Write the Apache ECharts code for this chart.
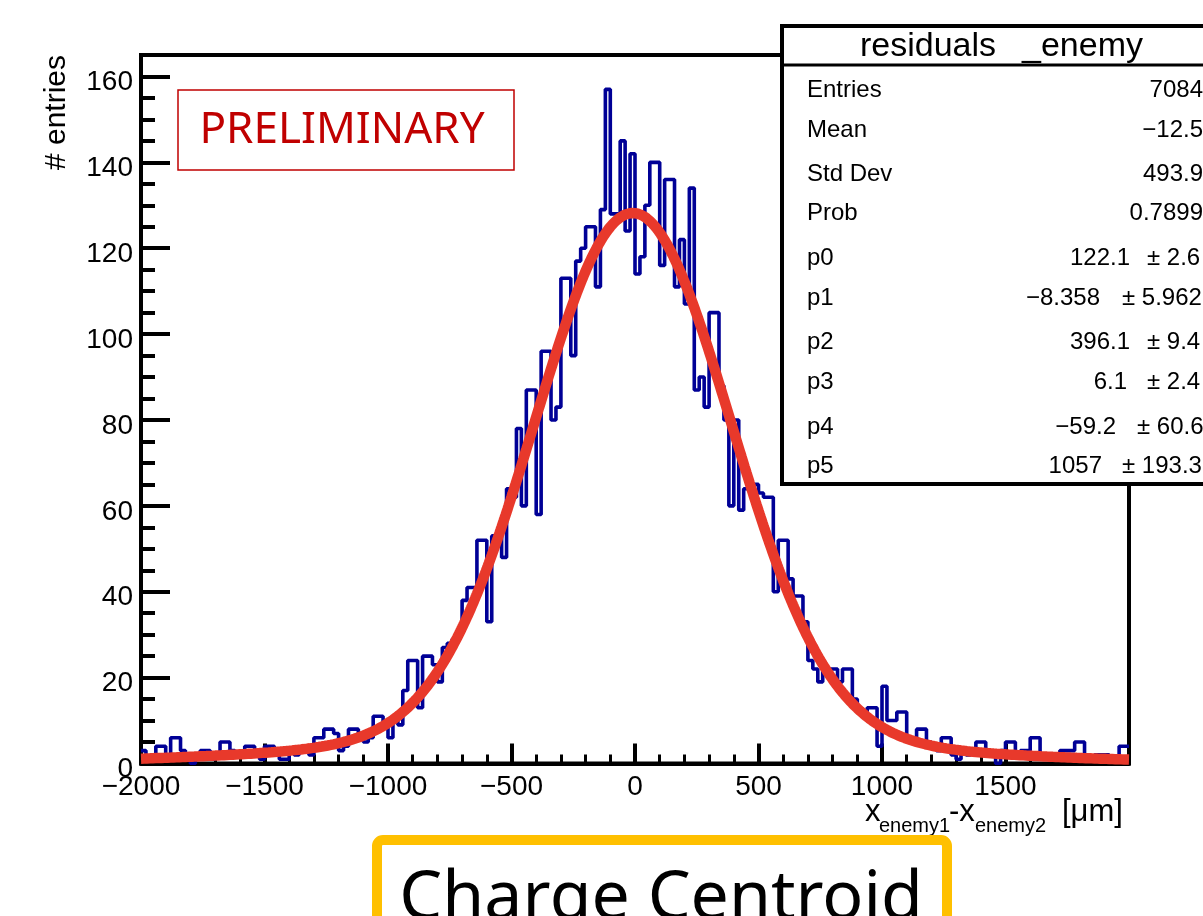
<!DOCTYPE html>
<html>
<head>
<meta charset="utf-8">
<title>residuals _enemy</title>
<script src="https://cdn.jsdelivr.net/npm/echarts@6/dist/echarts.min.js"></script>
<style>
  html, body { margin: 0; padding: 0; background: #ffffff; }
  #chart { width: 1203px; height: 916px; }
</style>
</head>
<body>
<div id="chart"></div>
<script>
// Histogram binning: 200 bins of 20 um from -2000 to 2000
const binLow = -2000;
const binWidth = 20;

// Entries per bin
const counts = [
  3, 1, 2, 4, 4, 1, 6, 6, 3, 1,
  0, 2, 3, 3, 1, 2, 5, 5, 3, 2,
  2, 4, 4, 2, 1, 4, 4, 2, 1, 1,
  3, 2, 3, 3, 2, 6, 6, 8, 8, 7,
  3, 4, 8, 8, 6, 5, 6, 11, 11, 9,
  6, 10, 9, 17, 24, 24, 13, 25, 25, 23,
  19, 27, 28, 29, 31, 38, 41, 41, 52, 52,
  33, 53, 53, 48, 64, 62, 78, 60, 87, 87,
  58, 96, 96, 80, 83, 113, 113, 95, 117, 120,
  125, 125, 111, 129, 157, 128, 128, 145, 124, 142,
  114, 118, 130, 140, 140, 116, 136, 136, 111, 122,
  107, 134, 87, 90, 83, 105, 105, 88, 80, 60,
  80, 59, 64, 65, 65, 63, 62, 62, 40, 52,
  52, 43, 39, 39, 33, 24, 22, 19, 22, 22,
  22, 19, 22, 22, 15, 12, 12, 13, 13, 4,
  18, 10, 10, 12, 12, 5, 5, 8, 8, 5,
  4, 3, 6, 6, 2, 1, 3, 2, 3, 5,
  5, 2, 2, 0, 3, 5, 5, 2, 3, 3,
  6, 6, 2, 1, 2, 2, 3, 3, 3, 5,
  5, 2, 1, 2, 2, 2, 1, 1, 4, 4
];

// Fit parameters p0..p5 (sum of two gaussians)
const fitParams = [122.1, -8.358, 396.1, 6.1, -59.2, 1057];

// Axis ticks
const xMajorTicks = [-2000, -1500, -1000, -500, 0, 500, 1000, 1500, 2000];
const yMajorTicks = [0, 20, 40, 60, 80, 100, 120, 140, 160];
const yMinorTicks = [5, 10, 15, 25, 30, 35, 45, 50, 55, 65, 70, 75, 85, 90, 95,
                     105, 110, 115, 125, 130, 135, 145, 150, 155, 165];

// Statistics box content
const statsTitle = ['residuals', '_enemy'];
const statsLabels = ['Entries', 'Mean', 'Std Dev', 'Prob', 'p0', 'p1', 'p2', 'p3', 'p4', 'p5'];
const statsValues = ['7084', '\u221212.5', '493.9', '0.7899', '122.1', '\u22128.358', '396.1', '6.1', '\u221259.2', '1057'];
const statsErrors = ['', '', '', '', '\u00b1 2.6', '\u00b1 5.962', '\u00b1 9.4', '\u00b1 2.4', '\u00b1 60.6', '\u00b1 193.3'];

// ---- geometry of the plot frame (pixels) ----
const FRAME = { left: 141, right: 1129, top: 55, bottom: 763.5 };
const AXIS_FONT = '"Liberation Sans", Arial, Helvetica, sans-serif';

function fmtNum(v) {
  return v < 0 ? '\u2212' + Math.abs(v) : String(v);
}

function fitFn(x) {
  const [p0, p1, p2, p3, p4, p5] = fitParams;
  return p0 * Math.exp(-0.5 * Math.pow((x - p1) / p2, 2)) +
         p3 * Math.exp(-0.5 * Math.pow((x - p4) / p5, 2));
}

// Step outline points at bin lower edges, closed at the last upper edge
const histPoints = counts.map((c, i) => [binLow + i * binWidth, c]);
histPoints.push([binLow + counts.length * binWidth, counts[counts.length - 1]]);

// Fit curve sampled over the full axis range
const fitPoints = [];
for (let x = binLow; x <= binLow + counts.length * binWidth; x += 4) {
  fitPoints.push([x, fitFn(x)]);
}

// ---- graphic overlays ----
const statsRowY = [90.5, 130, 174, 213, 258, 298, 342, 382, 427, 466];
const statsValueRight = [1203, 1203, 1203, 1203, 1130, 1100, 1130, 1127, 1116, 1102];
const statsErrorLeft = [0, 0, 0, 0, 1147, 1122, 1147, 1147, 1137, 1122];
const STATS_FONT = '24px ' + AXIS_FONT;

const statsChildren = [
  { type: 'rect', shape: { x: 782, y: 26, width: 460, height: 458 },
    style: { fill: '#ffffff', stroke: '#000000', lineWidth: 4 } },
  { type: 'line', shape: { x1: 782, y1: 65, x2: 1240, y2: 65 },
    style: { stroke: '#000000', lineWidth: 3 } },
  { type: 'text', x: 860, y: 47,
    style: { text: statsTitle[0], font: '34px ' + AXIS_FONT, fill: '#000', align: 'left', verticalAlign: 'middle' } },
  { type: 'text', x: 1022, y: 47,
    style: { text: statsTitle[1], font: '34px ' + AXIS_FONT, fill: '#000', align: 'left', verticalAlign: 'middle' } }
];
statsLabels.forEach((lab, i) => {
  statsChildren.push({ type: 'text', x: 807, y: statsRowY[i],
    style: { text: lab, font: STATS_FONT, fill: '#000', align: 'left', verticalAlign: 'middle' } });
  statsChildren.push({ type: 'text', x: statsValueRight[i], y: statsRowY[i],
    style: { text: statsValues[i], font: STATS_FONT, fill: '#000', align: 'right', verticalAlign: 'middle' } });
  if (statsErrors[i]) {
    statsChildren.push({ type: 'text', x: statsErrorLeft[i], y: statsRowY[i],
      style: { text: statsErrors[i], font: STATS_FONT, fill: '#000', align: 'left', verticalAlign: 'middle' } });
  }
});

const graphics = [
  // preliminary tag
  { type: 'rect', z: 10, shape: { x: 178, y: 90, width: 336, height: 80 },
    style: { fill: 'none', stroke: '#c00000', lineWidth: 1.5 } },
  { type: 'text', z: 10, x: 342, y: 130,
    style: { text: 'PRELIMINARY', font: '44px "Noto Sans", sans-serif', fill: '#c00000', align: 'center', verticalAlign: 'middle' } },
  // statistics box
  { type: 'group', z: 10, children: statsChildren.map(c => Object.assign({ z: 10 }, c)) },
  // y axis title
  { type: 'text', z: 10, x: 57, y: 55, rotation: Math.PI / 2,
    style: { text: '# entries', font: '30px ' + AXIS_FONT, fill: '#000', align: 'right', verticalAlign: 'middle' } },
  // x axis title
  { type: 'text', z: 10, x: 865, y: 812,
    style: { text: 'x', font: '31px ' + AXIS_FONT, fill: '#000', align: 'left', verticalAlign: 'middle' } },
  { type: 'text', z: 10, x: 879, y: 826,
    style: { text: 'enemy1', font: '20px ' + AXIS_FONT, fill: '#000', align: 'left', verticalAlign: 'middle' } },
  { type: 'text', z: 10, x: 949, y: 812,
    style: { text: '-x', font: '31px ' + AXIS_FONT, fill: '#000', align: 'left', verticalAlign: 'middle' } },
  { type: 'text', z: 10, x: 975, y: 826,
    style: { text: 'enemy2', font: '20px ' + AXIS_FONT, fill: '#000', align: 'left', verticalAlign: 'middle' } },
  { type: 'text', z: 10, x: 1062, y: 812,
    style: { text: '[\u03bcm]', font: '31px ' + AXIS_FONT, fill: '#000', align: 'left', verticalAlign: 'middle' } },
  // method caption
  { type: 'rect', z: 10, shape: { x: 377, y: 840, width: 570, height: 120, r: 6 },
    style: { fill: '#ffffff', stroke: '#ffc000', lineWidth: 10 } },
  { type: 'text', z: 11, x: 661, y: 900,
    style: { text: 'Charge Centroid', font: '68px "Noto Sans", sans-serif', fill: '#000', align: 'center', verticalAlign: 'middle' } }
];

const chart = echarts.init(document.getElementById('chart'), null, { renderer: 'canvas', width: 1203, height: 916 });

chart.setOption({
  animation: false,
  backgroundColor: '#ffffff',
  grid: {
    left: FRAME.left, top: FRAME.top,
    right: 1203 - FRAME.right, bottom: 916 - FRAME.bottom,
    show: true, borderColor: '#000000', borderWidth: 4, containLabel: false
  },
  xAxis: {
    type: 'value', min: -2000, max: 2000, interval: 500,
    axisLine: { show: true, onZero: false, lineStyle: { color: '#000', width: 4 } },
    axisTick: { show: true, inside: true, length: 20, lineStyle: { color: '#000', width: 4 } },
    minorTick: { show: true, splitNumber: 5, length: 9, lineStyle: { color: '#000', width: 3 } },
    axisLabel: { fontFamily: AXIS_FONT, fontSize: 28, color: '#000', margin: 10,
                 formatter: v => (xMajorTicks.indexOf(v) >= 0 && v !== 2000) ? fmtNum(v) : '' },
    splitLine: { show: false }, minorSplitLine: { show: false }
  },
  yAxis: [
    {
      type: 'value', min: 0, max: 165, interval: 20,
      axisLine: { show: true, onZero: false, lineStyle: { color: '#000', width: 4 } },
      axisTick: { show: true, inside: true, length: 29, customValues: yMajorTicks,
                  lineStyle: { color: '#000', width: 4 } },
      // labels sit slightly below their ticks
      axisLabel: { fontFamily: AXIS_FONT, fontSize: 28, color: '#000', margin: 8,
                   verticalAlign: 'top', lineHeight: 12, customValues: yMajorTicks,
                   formatter: v => fmtNum(v) },
      splitLine: { show: false }
    },
    {
      // minor ticks every 5 entries
      type: 'value', min: 0, max: 165, position: 'left',
      axisLine: { show: false, onZero: false },
      axisTick: { show: true, inside: true, length: 14, customValues: yMinorTicks,
                  lineStyle: { color: '#000', width: 4 } },
      axisLabel: { show: false },
      splitLine: { show: false }
    }
  ],
  series: [
    {
      name: 'residuals _enemy', type: 'line', data: histPoints, step: 'end',
      symbol: 'none', silent: true, z: 3, clip: true,
      lineStyle: { color: '#000096', width: 3.6 }
    },
    {
      name: 'fit', type: 'line', data: fitPoints, symbol: 'none', silent: true, z: 4, clip: true,
      lineStyle: { color: '#e8392b', width: 10.5, cap: 'butt' }
    }
  ],
  graphic: graphics
});
</script>
</body>
</html>
